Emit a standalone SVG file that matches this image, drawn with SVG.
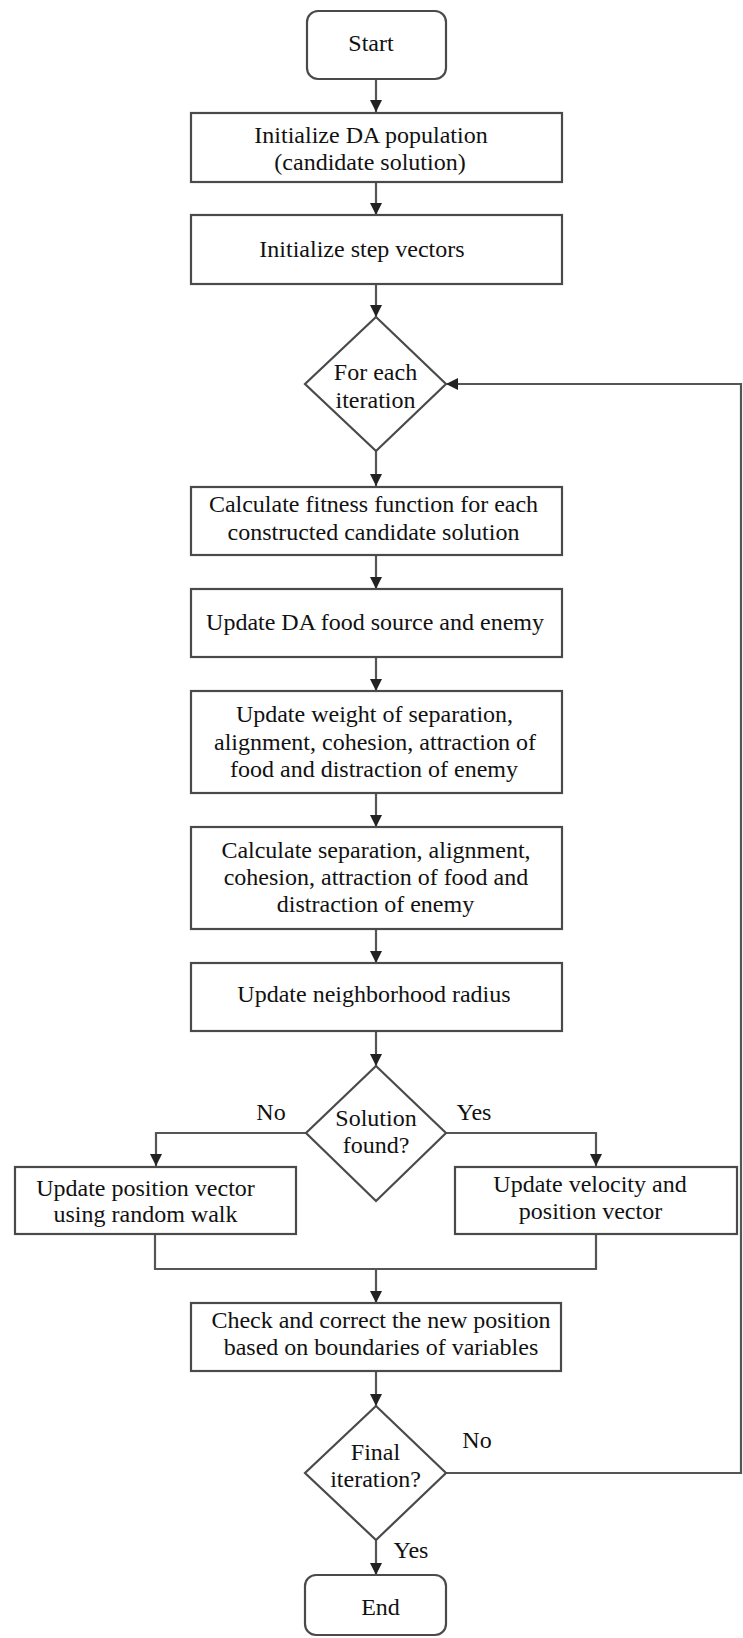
<svg xmlns="http://www.w3.org/2000/svg" width="743" height="1638" viewBox="0 0 743 1638">
<style>
.box{fill:#fff;stroke:#4a4a4a;stroke-width:2.2}
.con{fill:none;stroke:#555;stroke-width:2.2}
text{font-family:"Liberation Serif","Times New Roman",serif;font-size:24px;fill:#111;text-anchor:middle}
</style>
<defs>
<marker id="ah" viewBox="0 0 12 12" refX="12" refY="6" markerWidth="12" markerHeight="12" markerUnits="userSpaceOnUse" orient="auto">
<path d="M0,0 L12,6 L0,12 z" fill="#222"/>
</marker>
</defs>
<rect width="743" height="1638" fill="#fff"/>
<g id="connectors">
<line class="con" x1="376" y1="79" x2="376" y2="112" marker-end="url(#ah)"/>
<line class="con" x1="376" y1="182" x2="376" y2="215" marker-end="url(#ah)"/>
<line class="con" x1="376" y1="284" x2="376" y2="317" marker-end="url(#ah)"/>
<line class="con" x1="376" y1="451" x2="376" y2="486" marker-end="url(#ah)"/>
<line class="con" x1="376" y1="555" x2="376" y2="589" marker-end="url(#ah)"/>
<line class="con" x1="376" y1="657" x2="376" y2="691" marker-end="url(#ah)"/>
<line class="con" x1="376" y1="793" x2="376" y2="827" marker-end="url(#ah)"/>
<line class="con" x1="376" y1="929" x2="376" y2="963" marker-end="url(#ah)"/>
<line class="con" x1="376" y1="1031" x2="376" y2="1066" marker-end="url(#ah)"/>
<polyline class="con" points="306,1133 156,1133 156,1166" marker-end="url(#ah)"/>
<polyline class="con" points="446,1133 596,1133 596,1166" marker-end="url(#ah)"/>
<polyline class="con" points="155,1234 155,1269 596,1269 596,1234"/>
<line class="con" x1="376" y1="1269" x2="376" y2="1303" marker-end="url(#ah)"/>
<line class="con" x1="376" y1="1371" x2="376" y2="1406" marker-end="url(#ah)"/>
<line class="con" x1="376" y1="1540" x2="376" y2="1575" marker-end="url(#ah)"/>
<polyline class="con" points="446,1473 741,1473 741,384 446,384" marker-end="url(#ah)"/>
<text x="271" y="1120">No</text>
<text x="474" y="1120">Yes</text>
<text x="477" y="1448">No</text>
<text x="411" y="1558">Yes</text>
</g>
<g id="start">
<rect class="box" x="307" y="11" width="139" height="68" rx="11"/>
<text x="371" y="51">Start</text>
</g>
<g id="init-pop">
<rect class="box" x="191" y="113" width="371" height="69"/>
<text x="371" y="143">Initialize DA population</text>
<text x="370" y="170">(candidate solution)</text>
</g>
<g id="init-step">
<rect class="box" x="191" y="215" width="371" height="69"/>
<text x="362" y="257">Initialize step vectors</text>
</g>
<g id="for-each">
<polygon class="box" points="376,317 446,384 376,451 305,384"/>
<text x="375.5" y="380">For each</text>
<text x="375.5" y="408">iteration</text>
</g>
<g id="calc-fitness">
<rect class="box" x="191" y="487" width="371" height="68"/>
<text x="373.5" y="512">Calculate fitness function for each</text>
<text x="373.5" y="540">constructed candidate solution</text>
</g>
<g id="update-food">
<rect class="box" x="191" y="589" width="371" height="68"/>
<text x="375" y="630">Update DA food source and enemy</text>
</g>
<g id="update-weight">
<rect class="box" x="191" y="691" width="371" height="102"/>
<text x="374.5" y="722">Update weight of separation,</text>
<text x="375" y="750">alignment, cohesion, attraction of</text>
<text x="374" y="777">food and distraction of enemy</text>
</g>
<g id="calc-sep">
<rect class="box" x="191" y="827" width="371" height="102"/>
<text x="376" y="858">Calculate separation, alignment,</text>
<text x="376" y="885">cohesion, attraction of food and</text>
<text x="375.5" y="912">distraction of enemy</text>
</g>
<g id="update-radius">
<rect class="box" x="191" y="963" width="371" height="68"/>
<text x="374" y="1002">Update neighborhood radius</text>
</g>
<g id="solution-found">
<polygon class="box" points="376,1066 446,1133 376,1201 306,1133"/>
<text x="376" y="1126">Solution</text>
<text x="376" y="1153">found?</text>
</g>
<g id="random-walk">
<rect class="box" x="15" y="1167" width="281" height="67"/>
<text x="145.5" y="1196">Update position vector</text>
<text x="145.5" y="1222">using random walk</text>
</g>
<g id="velocity">
<rect class="box" x="455" y="1167" width="282" height="67"/>
<text x="590" y="1192">Update velocity and</text>
<text x="590.5" y="1219">position vector</text>
</g>
<g id="check-correct">
<rect class="box" x="191" y="1303" width="370" height="68"/>
<text x="381" y="1328">Check and correct the new position</text>
<text x="381" y="1355">based on boundaries of variables</text>
</g>
<g id="final-iteration">
<polygon class="box" points="376,1406 446,1473 376,1540 305,1473"/>
<text x="375.5" y="1460">Final</text>
<text x="375.5" y="1487">iteration?</text>
</g>
<g id="end">
<rect class="box" x="305" y="1575" width="141" height="60" rx="11"/>
<text x="380.5" y="1615">End</text>
</g>
</svg>
